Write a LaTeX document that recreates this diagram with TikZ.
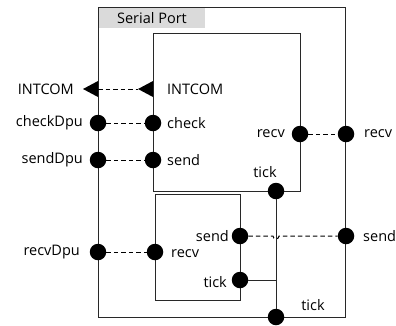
\documentclass[tikz,border=0pt]{standalone}
\usepackage{fontspec}
\setmainfont{Open Sans}
\usetikzlibrary{calc,shapes.geometric}
\definecolor{lineC}{RGB}{40,40,40}
\definecolor{hdrC}{RGB}{218,218,218}
\tikzset{
  box/.style={draw=lineC, line width=1pt},
  port/.style={circle, fill=black, inner sep=0pt, minimum size=16.5pt},
  lbl/.style={font=\fontsize{14.5}{16}\selectfont, inner sep=0pt, text=black},
  link/.style={draw=black, line width=1pt, dash pattern=on 4.5pt off 3pt},
  wire/.style={draw=lineC, line width=1pt}
}
\begin{document}
\begin{tikzpicture}[x=1pt, y=-1pt]
\useasboundingbox (0,0) rectangle (396,325);
% header
\fill[hdrC] (98,7) rectangle (205,28);
\node[lbl] (hdr) at (152,18) {Serial Port};
% boxes
\draw[box] (98,7) rectangle (345,317);
\draw[box] (153,33) rectangle (300,191);
\draw[box] (155,194) rectangle (240,300);
% triangles
\fill (98,81) -- (98,97) -- (83,89) -- cycle;
\fill (153,81) -- (153,97) -- (138,89) -- cycle;
\coordinate (oIb) at (98,89);
\coordinate (iIt) at (138,89);
% ports
\node[port] (oCheck) at (98,123) {};
\node[port] (iCheck) at (153,123) {};
\node[port] (oSend) at (98,160) {};
\node[port] (iSend) at (153,160) {};
\node[port] (oRecvDpu) at (98,252) {};
\node[port] (bRecv) at (155,252) {};
\node[port] (aRecv) at (300,134) {};
\node[port] (oRecv) at (346,134) {};
\node[port] (aTick) at (276,191) {};
\node[port] (bSend) at (240,236) {};
\node[port] (oSendR) at (346,236) {};
\node[port] (bTick) at (240,280) {};
\node[port] (oTick) at (276,317) {};
\coordinate (junc) at (276,280);
% connectors
\draw[link] (oIb) -- (iIt);
\draw[link] (oCheck) -- (iCheck);
\draw[link] (oSend) -- (iSend);
\draw[link] (oRecvDpu) -- (bRecv);
\draw[link] (aRecv) -- (oRecv);
\draw[link] (bSend) -- (273,236) arc[start angle=180, end angle=0, radius=3] -- (oSendR);
\draw[wire] (aTick) -- (oTick);
\draw[wire] (bTick) -- (junc);
% labels
\node[lbl, anchor=east] at (74,89) {INTCOM};
\node[lbl, anchor=west] at (167,89) {INTCOM};
\node[lbl, anchor=east] at (83,123) {checkDpu};
\node[lbl, anchor=west] at (167,123) {check};
\node[lbl, anchor=east] at (83,160) {sendDpu};
\node[lbl, anchor=west] at (167,160) {send};
\node[lbl, anchor=east] at (80,252) {recvDpu};
\node[lbl, anchor=west] at (171,254) {recv};
\node[lbl, anchor=east] at (285,134) {recv};
\node[lbl, anchor=west] at (364,134) {recv};
\node[lbl] at (265,172) {tick};
\node[lbl, anchor=east] at (229,236) {send};
\node[lbl, anchor=west] at (363,236) {send};
\node[lbl, anchor=east] at (227,282) {tick};
\node[lbl] at (313,305) {tick};
\end{tikzpicture}
\end{document}
